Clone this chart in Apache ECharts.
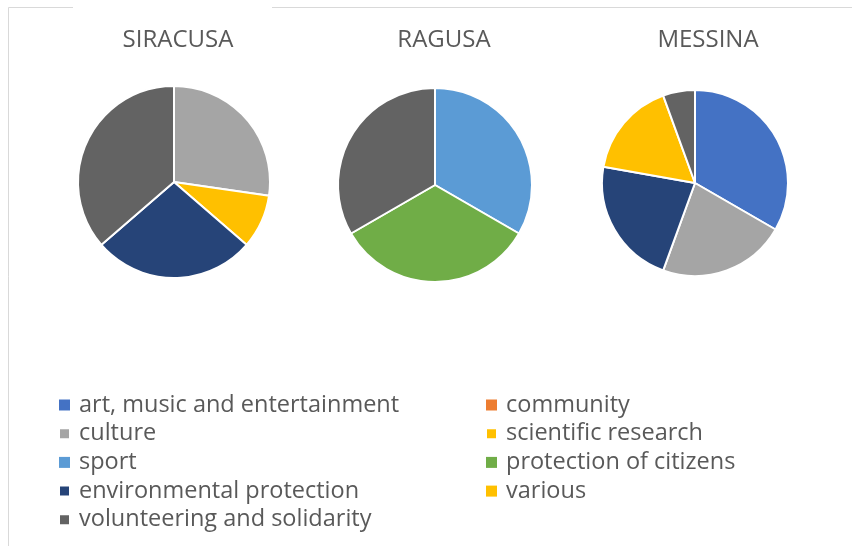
<!DOCTYPE html>
<html><head><meta charset="utf-8">
<script src="https://cdn.jsdelivr.net/npm/echarts@6/dist/echarts.min.js"></script>
<style>html,body{margin:0;padding:0;background:#fff}#c{width:852px;height:546px}</style>
</head><body><div id="c"></div>
<script>
const categories = ['art, music and entertainment','community','culture','scientific research','sport','protection of citizens','environmental protection','various','volunteering and solidarity'];
const colors = ['#4472C4','#ED7D31','#A5A5A5','#FFC000','#5B9BD5','#70AD47','#264478','#FFC000','#636363'];
const cities = ['SIRACUSA','RAGUSA','MESSINA'];
const siracusa = [0,0,3,1,0,0,3,0,4];
const ragusa   = [0,0,0,0,1,1,0,0,1];
const messina  = [6,0,4,0,0,0,4,3,1];
const values = [siracusa, ragusa, messina];
const legendLeft = ['art, music and entertainment','culture','sport','environmental protection','volunteering and solidarity'];
const legendRight = ['community','scientific research','protection of citizens','various'];

const centers = [[174,182],[435,185],[695,183]];
const radii = [96,97,93];
const titleX = [173,439,703];
const FONT = '"Open Sans", sans-serif';

const chart = echarts.init(document.getElementById('c'), null, {renderer:'canvas'});
const series = values.map((vals, s) => ({
  type: 'pie',
  name: cities[s],
  center: centers[s],
  radius: radii[s],
  startAngle: 90,
  clockwise: true,
  label: {show:false},
  labelLine: {show:false},
  emphasis: {disabled:true},
  animation: false,
  data: categories.map((c,i) => ({
    name: c, value: vals[i],
    itemStyle: {color: colors[i], borderColor:'#fff', borderWidth: vals[i] > 0 ? 2 : 0}
  }))
}));

const legendCommon = {
  orient: 'vertical', icon: 'rect', itemWidth: 11, itemHeight: 11, itemGap: 4.7,
  selectedMode: false,
  textStyle: {fontFamily: FONT, fontSize: 23.5, color: '#595959', lineHeight: 24, padding:[0,0,0,4]}
};

chart.setOption({
  backgroundColor: '#fff',
  title: cities.map((c,i) => ({
    text: c, left: titleX[i], top: 23, textAlign: 'center',
    textStyle: {fontFamily: FONT, fontSize: 24, fontWeight: 'normal', color: '#595959'}
  })),
  graphic: [
    {type:'polyline', shape:{points:[[73,7.5],[8.5,7.5],[8.5,546]]}, style:{stroke:'#d9d9d9', lineWidth:1, fill:null}, silent:true},
    {type:'line', shape:{x1:272,y1:7.5,x2:852,y2:7.5}, style:{stroke:'#d9d9d9', lineWidth:1}, silent:true}
  ],
  legend: [
    Object.assign({}, legendCommon, {left: 53, top: 388, data: legendLeft}),
    Object.assign({}, legendCommon, {left: 480, top: 388, data: legendRight})
  ],
  series: series
});
</script></body></html>
